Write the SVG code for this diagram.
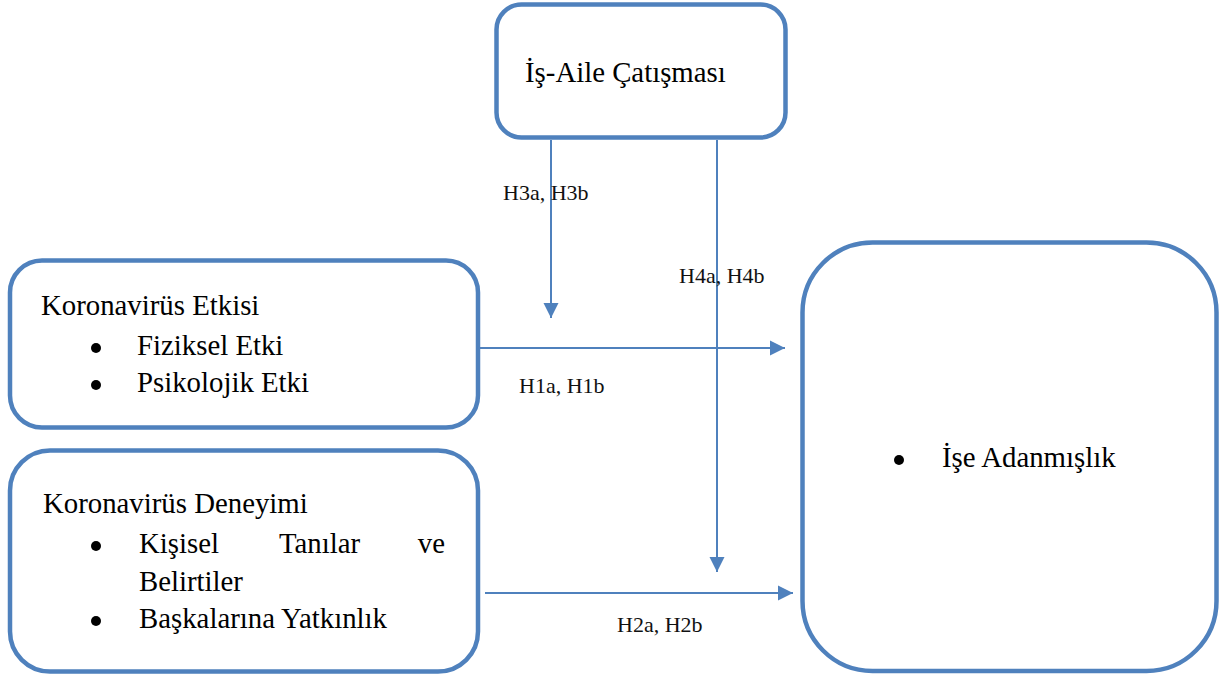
<svg xmlns="http://www.w3.org/2000/svg" width="1225" height="677" viewBox="0 0 1225 677">
<style>
.box{fill:#fff;stroke:#4F81BD;stroke-width:4.5}
.c{stroke:#4F81BD;stroke-width:2;fill:none}
.bul{fill:#000}
</style>
<defs>
<marker id="ah" markerUnits="userSpaceOnUse" markerWidth="16" markerHeight="16" viewBox="0 0 16 16" refX="15" refY="8" orient="auto">
<path d="M0,0.5 L15,8 L0,15.5 Z" fill="#4F81BD"/>
</marker>
</defs>
<rect width="1225" height="677" fill="#fff"/>
<g id="connectors">
<line class="c" x1="551" y1="140" x2="551" y2="318" marker-end="url(#ah)"/>
<line class="c" x1="717" y1="140" x2="717" y2="572" marker-end="url(#ah)"/>
<line class="c" x1="480" y1="348" x2="785" y2="348" marker-end="url(#ah)"/>
<line class="c" x1="485" y1="593" x2="793" y2="593" marker-end="url(#ah)"/>
<g font-family="Liberation Serif, Times New Roman, serif" font-size="22" fill="#111">
<text x="503" y="200">H3a, H3b</text>
<text x="679" y="283">H4a, H4b</text>
<text x="519" y="393">H1a, H1b</text>
<text x="617" y="632">H2a, H2b</text>
</g>
</g>
<g font-family="Liberation Serif, Times New Roman, serif" font-size="28.8" fill="#000">
<g id="is-aile">
<rect class="box" x="496.5" y="4.5" width="289" height="133" rx="25"/>
<text x="525" y="82">İş-Aile Çatışması</text>
</g>
<g id="koronavirus-etkisi">
<rect class="box" x="10" y="260.5" width="468" height="167" rx="32"/>
<text x="41" y="315">Koronavirüs Etkisi</text>
<circle class="bul" cx="96" cy="348" r="5"/>
<text x="137" y="355">Fiziksel Etki</text>
<circle class="bul" cx="96" cy="385" r="5"/>
<text x="137" y="392">Psikolojik Etki</text>
</g>
<g id="koronavirus-deneyimi">
<rect class="box" x="10" y="450.5" width="468" height="221" rx="40"/>
<text x="43" y="513">Koronavirüs Deneyimi</text>
<circle class="bul" cx="96" cy="546" r="5"/>
<text x="139" y="553">Kişisel</text>
<text x="279" y="553">Tanılar</text>
<text x="445" y="553" text-anchor="end">ve</text>
<text x="139" y="591">Belirtiler</text>
<circle class="bul" cx="96" cy="621" r="5"/>
<text x="139" y="628">Başkalarına Yatkınlık</text>
</g>
<g id="ise-adanmislik">
<rect class="box" x="802.5" y="242.5" width="414" height="428.5" rx="70"/>
<circle class="bul" cx="899" cy="460" r="5"/>
<text x="942" y="467">İşe Adanmışlık</text>
</g>
</g>
</svg>
